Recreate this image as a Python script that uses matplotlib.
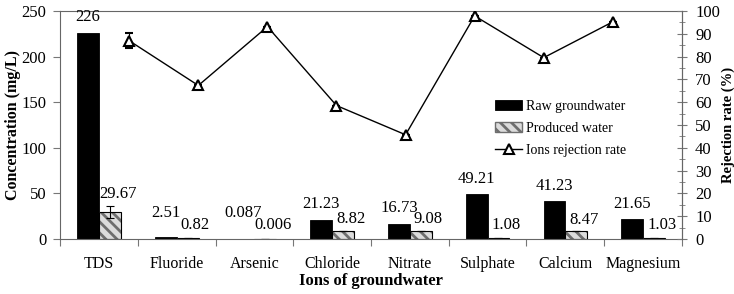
import matplotlib.pyplot as plt
from matplotlib.lines import Line2D
import numpy as np

# data
ions = ['TDS', 'Fluoride', 'Arsenic', 'Chloride', 'Nitrate', 'Sulphate', 'Calcium', 'Magnesium']
raw = [226, 2.51, 0.087, 21.23, 16.73, 49.21, 41.23, 21.65]
produced = [29.67, 0.82, 0.006, 8.82, 9.08, 1.08, 8.47, 1.03]
produced_err = [6.5, 0, 0, 0, 0, 0, 0, 0]
raw_lbl = ['226', '2.51', '0.087', '21.23', '16.73', '49.21', '41.23', '21.65']
prod_lbl = ['29.67', '0.82', '0.006', '8.82', '9.08', '1.08', '8.47', '1.03']
rejection = [86.9, 67.3, 93.1, 58.5, 45.7, 97.8, 79.5, 95.2]
rejection_err = [3.2, 0, 0, 0, 0, 0, 0, 0]

plt.rcParams['font.family'] = ['Liberation Serif', 'DejaVu Serif']
plt.rcParams['hatch.linewidth'] = 2.0

fig, ax = plt.subplots(figsize=(7.34, 2.94), dpi=100)
fig.subplots_adjust(left=0.082, right=0.929, top=0.963, bottom=0.187)

x = np.arange(len(ions))
w = 0.28
gray = '#777777'

b1 = ax.bar(x - w/2, raw, w, color='black', edgecolor='black', linewidth=0.6)
# hatched fill, then black outline on top
ax.bar(x + w/2, produced, w, color='#dcdcdc', edgecolor='#6e6e6e', hatch='\\\\\\', linewidth=0)
ax.bar(x + w/2, produced, w, yerr=produced_err, color='none', edgecolor='black',
       linewidth=0.8, error_kw=dict(ecolor='black', elinewidth=0.8, capsize=3, capthick=0.8))

# data labels: excel keeps small ones lifted a bit off the axis
raw_y = np.maximum(np.array(raw) + 8, 20)
prod_y = np.maximum(np.array(produced) + np.array(produced_err) + 4, 7)
for i in range(len(ions)):
    ax.text(x[i] - w/2, raw_y[i], raw_lbl[i], ha='center', va='bottom', fontsize=12)
    ax.text(x[i] + w/2 + 0.1, prod_y[i], prod_lbl[i], ha='center', va='bottom', fontsize=12)

ax.set_xlim(-0.5, len(ions) - 0.5)
ax.set_ylim(0, 250)
ax.set_yticks(np.arange(0, 251, 50))
ax.set_xticks(np.arange(-0.5, len(ions), 1))
ax.set_xticklabels([])
ax.set_xticks(x, minor=True)
ax.set_xticklabels(ions, minor=True, fontsize=11.5)
ax.tick_params(axis='x', which='major', direction='out', length=5, color=gray)
ax.tick_params(axis='x', which='minor', length=0, pad=12)
ax.tick_params(axis='y', direction='out', length=5, pad=5, labelsize=12, color=gray)
ax.set_ylabel('Concentration (mg/L)', fontsize=11.5, fontweight='bold', labelpad=0)
ax.set_xlabel('Ions of groundwater', fontsize=12, fontweight='bold', labelpad=1)
for s in ax.spines.values():
    s.set_color('#666666')

# rejection rate sits on its own secondary axis (points at 1..8 over 0..9)
ax2 = fig.add_axes(ax.get_position())
ax2.patch.set_visible(False)
ax2.errorbar(x + 1, rejection, yerr=rejection_err, color='black', linewidth=1.0, marker='^',
             markersize=7, markerfacecolor='white', markeredgecolor='black',
             markeredgewidth=1.5, capsize=3, elinewidth=0.8)
ax2.set_xlim(0, len(ions) + 1)
ax2.set_ylim(0, 100)
ax2.xaxis.set_visible(False)
ax2.yaxis.tick_right()
ax2.yaxis.set_label_position('right')
for k in ['left', 'top', 'bottom']:
    ax2.spines[k].set_visible(False)
ax2.spines['right'].set_color('#666666')
ax2.set_yticks(np.arange(0, 101, 10))
ax2.set_yticks(np.arange(0, 101, 5), minor=True)
ax2.tick_params(axis='y', which='major', direction='inout', length=7, pad=6, labelsize=12, color=gray)
ax2.tick_params(axis='y', which='minor', direction='inout', length=4, color=gray)
ax2.set_ylabel('Rejection rate (%)', fontsize=10.5, fontweight='bold', labelpad=1)

h2 = plt.Rectangle((0, 0), 1, 1, facecolor='#dcdcdc', edgecolor='#6e6e6e', hatch='\\\\\\')
h3 = Line2D([], [], color='black', linewidth=1.0, marker='^', markersize=7,
            markerfacecolor='white', markeredgecolor='black', markeredgewidth=1.5)
ax2.legend([b1, h2, h3], ['Raw groundwater', 'Produced water', 'Ions rejection rate'],
           loc='upper left', bbox_to_anchor=(0.68, 0.665), frameon=False, fontsize=10,
           handlelength=1.9, handletextpad=0.3, labelspacing=0.65)

fig.savefig('out.png', dpi=100)
